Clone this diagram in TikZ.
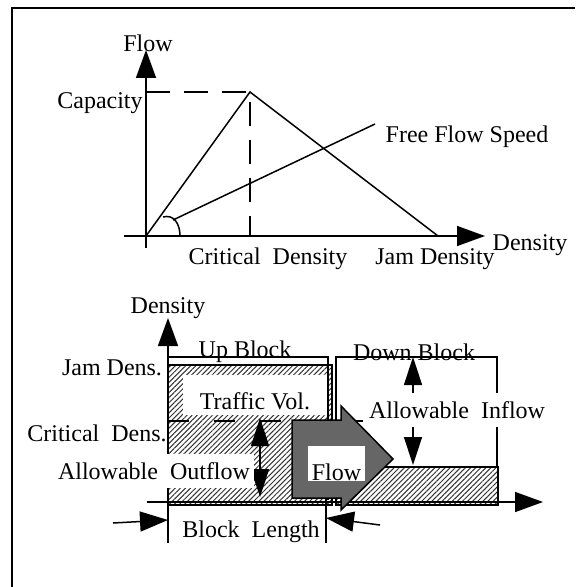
\documentclass[tikz,border=0pt]{standalone}
\usepackage{fontspec}
\setmainfont{Liberation Serif}
\usetikzlibrary{arrows.meta,patterns.meta}

\tikzset{
  bigtip/.style={-{Triangle[length=14pt,width=10pt]}},
  twotip/.style={{Triangle[length=14pt,width=9pt]}-{Triangle[length=14pt,width=9pt]}},
  longdash/.style={dash pattern=on 12pt off 7pt},
  critdash/.style={dash pattern=on 10.5pt off 12.5pt},
  hatchbox/.style={pattern={Lines[angle=45,distance=1.8pt,line width=0.5pt]}, pattern color=black!80, line width=1pt},
  whitebox/.style={fill=white, inner xsep=2pt, inner ysep=4pt},
}

\begin{document}
\begin{tikzpicture}[x=0.5pt, y=-0.5pt, line width=0.75pt,
    every node/.style={font=\fontsize{12}{14}\selectfont, inner sep=0pt}]
    \useasboundingbox (0,0) rectangle (575,587);
    % frame
    \draw[line width=1pt] (12,587) -- (12,8) -- (575,8);

    % flow - density diagram
    \coordinate (O) at (146,236);
    \coordinate (flowbot) at (146,248);
    \coordinate (flowtop) at (146,50);
    \coordinate (denleft) at (124,236);
    \coordinate (denright) at (485,236);
    \coordinate (capleft) at (146,92);
    \coordinate (peak) at (250,92);
    \coordinate (crit) at (250,236);
    \coordinate (jam) at (438,236);
    \coordinate (ffsA) at (173,220);
    \coordinate (ffsB) at (375,124);
    \coordinate (arcA) at (163,217);
    \coordinate (arcB) at (180,236);
    \draw[bigtip] (flowbot) -- (flowtop);
    \draw[bigtip] (denleft) -- (denright);
    \draw[longdash] (capleft) -- (peak) -- (crit);
    \draw (O) -- (peak) -- (jam);
    \draw (ffsA) -- (ffsB);
    \draw (arcA) .. controls (174,214) and (180,224) .. (arcB);
    \node (flowlbl) at (148,43) {Flow};
    \node (caplbl) at (100,103) {Capacity};
    \node (ffslbl) at (467,137) {Free Flow Speed};
    \node (critlbl) at (268,259) {Critical\ \ Density};
    \node (jamlbl) at (435,259) {Jam Density};
    \node (denlbl) at (530,245) {Density};

    % block diagram
    \coordinate (ax) at (168,543);
    \coordinate (axtop) at (168,318);
    \coordinate (hleft) at (147,502);
    \coordinate (hright) at (543,502);
    \draw[hatchbox] (168,365) rectangle (332,505);
    \draw[hatchbox] (336,467) rectangle (498,505);
    % brackets
    \draw (168,357) -- (328,357) -- (328,500);
    \draw (336,505) -- (336,357) -- (497,357) -- (497,467);
    \node (upblk) at (245,352) {Up Block};
    \node (downblk) at (414,352) {Down Block};
    \node (vol) [fill=white, minimum width=72pt, text height=15pt, text depth=1pt, inner ysep=2pt] at (255,395) {Traffic Vol.};
    \draw[critdash] (168,421) -- (375,421);
    \draw[bigtip] (ax) -- (axtop);
    \draw[bigtip] (hleft) -- (hright);
    \node (denlbl2) at (168,308) {Density};
    \node (jamdens) at (112,368) {Jam Dens.};
    \node (critdens) at (97,433) {Critical\ \ Dens.};
    \coordinate (outA) at (260,418);
    \coordinate (outB) at (260,497);
    \draw[twotip] (outA) -- (outB);
    \node (outflow) [whitebox] at (154,471) {Allowable\ \ Outflow};

    % flow arrow
    \draw[fill=black!60] (292,420) -- (341,420) -- (341,406) -- (393,459)
        -- (341,510) -- (341,498) -- (292,498) -- cycle;
    \node (flowtxt) [fill=white, minimum width=28.5pt, text height=16.5pt, text depth=0pt, inner ysep=0.5pt] at (336.5,463.5) {Flow};

    % inflow
    \coordinate (inA) at (413,357);
    \coordinate (inB) at (413,465);
    \draw[twotip] (inA) -- (inB);
    \node (inflow) [whitebox, inner xsep=3pt] at (457,410) {Allowable\ \ Inflow};

    % block length
    \coordinate (lenR) at (326,498);
    \coordinate (lenRb) at (326,543);
    \coordinate (lenLa) at (113,523);
    \coordinate (lenLb) at (168,520);
    \coordinate (lenRa) at (380,525);
    \coordinate (lenRt) at (326,518);
    \draw (lenR) -- (lenRb);
    \draw[bigtip] (lenLa) -- (lenLb);
    \draw[bigtip] (lenRa) -- (lenRt);
    \node (blklen) at (251,532) {Block\ \ Length};
\end{tikzpicture}
\end{document}
